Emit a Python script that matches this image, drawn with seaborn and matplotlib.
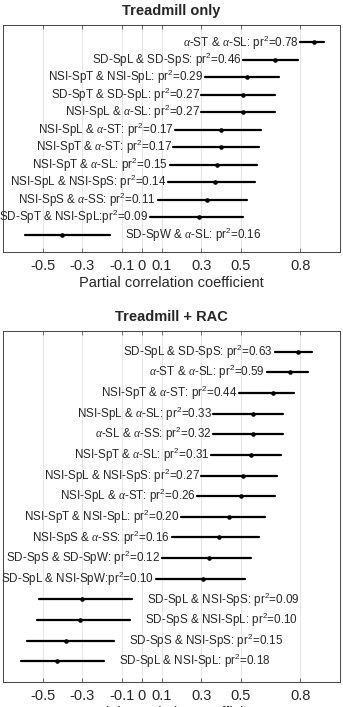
import pandas as pd
import matplotlib
matplotlib.use("Agg")
import matplotlib.pyplot as plt
import seaborn as sns

# --- Data: partial correlation (lower CI, estimate, upper CI) ---
A = r"$\mathit{\alpha}$"
top_labels = [
    f"{A}-ST & {A}-SL: pr$^2$=0.78",
    "SD-SpL & SD-SpS: pr$^2$=0.46",
    "NSI-SpT & NSI-SpL: pr$^2$=0.29",
    "SD-SpT & SD-SpL: pr$^2$=0.27",
    f"NSI-SpL & {A}-SL: pr$^2$=0.27",
    f"NSI-SpL & {A}-ST: pr$^2$=0.17",
    f"NSI-SpT & {A}-ST: pr$^2$=0.17",
    f"NSI-SpT & {A}-SL: pr$^2$=0.15",
    "NSI-SpL & NSI-SpS: pr$^2$=0.14",
    f"NSI-SpS & {A}-SS: pr$^2$=0.11",
    "SD-SpT & NSI-SpL:pr$^2$=0.09",
    f"SD-SpW & {A}-SL: pr$^2$=0.16",
]
top_mid = [0.87, 0.67, 0.53, 0.51, 0.51, 0.40, 0.40, 0.38, 0.37, 0.33, 0.29, -0.40]
top_lo = [0.80, 0.51, 0.32, 0.30, 0.30, 0.17, 0.16, 0.14, 0.13, 0.08, 0.04, -0.59]
top_hi = [0.92, 0.79, 0.69, 0.67, 0.67, 0.60, 0.59, 0.58, 0.57, 0.53, 0.51, -0.16]

rac_labels = [
    "SD-SpL & SD-SpS: pr$^2$=0.63",
    f"{A}-ST & {A}-SL: pr$^2$=0.59",
    f"NSI-SpT & {A}-ST: pr$^2$=0.44",
    f"NSI-SpL & {A}-SL: pr$^2$=0.33",
    f"{A}-SL & {A}-SS: pr$^2$=0.32",
    f"NSI-SpT & {A}-SL: pr$^2$=0.31",
    "NSI-SpL & NSI-SpS: pr$^2$=0.27",
    f"NSI-SpL & {A}-ST: pr$^2$=0.26",
    "NSI-SpT & NSI-SpL: pr$^2$=0.20",
    f"NSI-SpS & {A}-SS: pr$^2$=0.16",
    "SD-SpS & SD-SpW: pr$^2$=0.12",
    "SD-SpL & NSI-SpW:pr$^2$=0.10",
    "SD-SpL & NSI-SpS: pr$^2$=0.09",
    "SD-SpS & NSI-SpL: pr$^2$=0.10",
    "SD-SpS & NSI-SpS: pr$^2$=0.15",
    "SD-SpL & NSI-SpL: pr$^2$=0.18",
]
rac_mid = [0.79, 0.75, 0.66, 0.56, 0.56, 0.55, 0.51, 0.50, 0.44, 0.39, 0.34, 0.31,
           -0.30, -0.31, -0.38, -0.43]
rac_lo = [0.67, 0.63, 0.49, 0.36, 0.36, 0.35, 0.30, 0.28, 0.20, 0.15, 0.10, 0.07,
          -0.52, -0.53, -0.58, -0.61]
rac_hi = [0.86, 0.84, 0.77, 0.71, 0.71, 0.70, 0.68, 0.67, 0.62, 0.59, 0.55, 0.52,
          -0.05, -0.06, -0.14, -0.19]

ticks = [-0.5, -0.3, -0.1, 0, 0.1, 0.3, 0.5, 0.8]
tick_labels = ["-0.5", "-0.3", "-0.1", "0", "0.1", "0.3", "0.5", "0.8"]

sns.set_theme(style="white")
plt.rcParams["font.family"] = ["Liberation Sans", "DejaVu Sans"]
plt.rcParams["mathtext.fontset"] = "custom"
plt.rcParams["mathtext.rm"] = "Liberation Sans"
plt.rcParams["mathtext.it"] = "Liberation Serif:italic"
plt.rcParams["mathtext.default"] = "rm"
plt.rcParams["axes.unicode_minus"] = False


def long_form(labels, lo, mid, hi):
    rows = []
    for lab, a, b, c in zip(labels, lo, mid, hi):
        for v in (a, b, c):
            rows.append({"pair": lab, "r": v})
    return pd.DataFrame(rows)


def draw_panel(ax, labels, lo, mid, hi, title):
    df = long_form(labels, lo, mid, hi)
    sns.pointplot(data=df, x="r", y="pair", order=labels, estimator="median",
                  errorbar=("pi", 100), linestyle="none", color="black",
                  marker="o", markersize=3.3, markeredgewidth=0,
                  err_kws={"linewidth": 1.6}, ax=ax)
    for i, lab in enumerate(labels):
        if mid[i] > 0:
            ax.text(lo[i] - 0.008, i, lab, ha="right", va="center", fontsize=8.4)
        else:
            ax.text(hi[i] + 0.075, i, lab, ha="left", va="center", fontsize=8.4)
    ax.set_xlim(-0.7, 1.0)
    ax.set_ylim(len(labels), -1)
    ax.set_yticks([])
    ax.set_ylabel("")
    ax.set_xticks(ticks)
    ax.set_xticklabels(tick_labels, fontsize=10.5)
    for t in ticks:
        ax.axvline(t, color="#e6e6e6", lw=0.8, zorder=0)
    ax.tick_params(axis="x", direction="in", length=3, width=0.6, color="#555555",
                   bottom=True, top=True, pad=5)
    for s in ax.spines.values():
        s.set_color("#444444")
        s.set_linewidth(0.7)
    ax.set_xlabel("Partial correlation coefficient", fontsize=10.5, labelpad=2)
    ax.set_title(title, fontsize=10.5, fontweight="bold", pad=7)


fig = plt.figure(figsize=(3.43, 7.07), dpi=100)
ax1 = fig.add_axes([3 / 343, 1 - 252 / 707, 337 / 343, 227 / 707])
ax2 = fig.add_axes([3 / 343, 1 - 682 / 707, 337 / 343, 351 / 707])

draw_panel(ax1, top_labels, top_lo, top_mid, top_hi, "Treadmill only")
draw_panel(ax2, rac_labels, rac_lo, rac_mid, rac_hi, "Treadmill + RAC")

fig.savefig("out.png", dpi=100)
